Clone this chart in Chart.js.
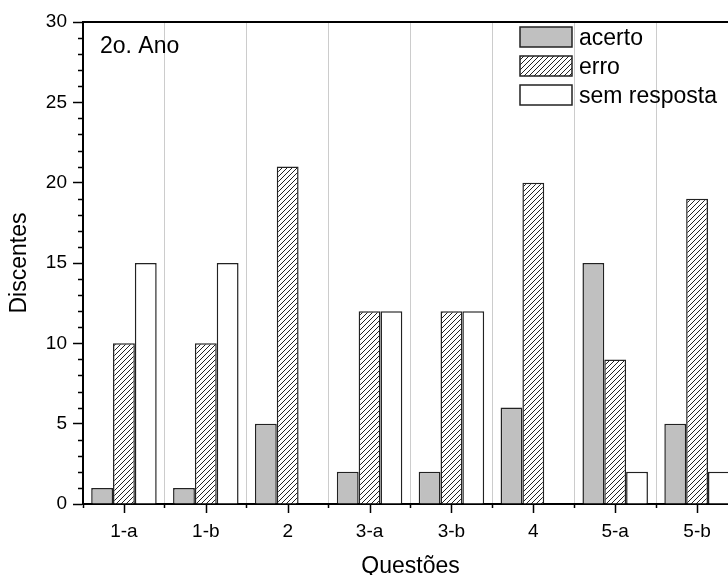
<!DOCTYPE html>
<html>
<head>
<meta charset="utf-8">
<script src="https://cdn.jsdelivr.net/npm/chart.js@4"></script>
<style>
  html, body { margin: 0; padding: 0; background: #fff; overflow: hidden; }
  #wrap { width: 746px; height: 575px; }
</style>
</head>
<body>
<div id="wrap"><canvas id="chart"></canvas></div>
<script>
const questoes = ["1-a", "1-b", "2", "3-a", "3-b", "4", "5-a", "5-b"];
const acerto = [1, 1, 5, 2, 2, 6, 15, 5];
const erro = [10, 10, 21, 12, 12, 20, 9, 19];
const semResposta = [15, 15, 0, 12, 12, 0, 2, 2];

const FONT = "'Liberation Sans', Arial, sans-serif";

// hatch "/" for erro
function hatch() {
  const s = 5;
  const c = document.createElement("canvas");
  c.width = s; c.height = s;
  const g = c.getContext("2d");
  g.fillStyle = "#fff";
  g.fillRect(0, 0, s, s);
  g.strokeStyle = "#222";
  g.lineWidth = 1;
  g.beginPath();
  g.moveTo(-1, s + 1); g.lineTo(s + 1, -1);
  g.moveTo(-1, 1); g.lineTo(1, -1);
  g.moveTo(s - 1, s + 1); g.lineTo(s + 1, s - 1);
  g.stroke();
  return g.createPattern(c, "repeat");
}
const ctx = document.getElementById("chart").getContext("2d");
const hatchPattern = hatch();

// minor ticks, major x ticks, top border, legend and label
const extras = {
  id: "extras",
  afterDraw(chart) {
    const { ctx, chartArea: a, scales: { x, y } } = chart;
    ctx.save();
    ctx.strokeStyle = "#000";
    ctx.lineWidth = 1.5;
    ctx.beginPath();
    for (let v = 0; v <= 30; v++) {
      if (v % 5 === 0) continue;
      const py = Math.round(y.getPixelForValue(v)) + 0.5;
      ctx.moveTo(a.left - 5, py); ctx.lineTo(a.left, py);
    }
    questoes.forEach((q, i) => {
      const px = Math.round(x.getPixelForValue(i)) + 0.5;
      ctx.moveTo(px, a.bottom); ctx.lineTo(px, a.bottom + 9);
    });
    ctx.stroke();
    ctx.lineWidth = 2;
    ctx.beginPath();
    ctx.moveTo(a.left - 1, a.top); ctx.lineTo(a.right, a.top);
    ctx.stroke();

    ctx.fillStyle = "#000";
    ctx.font = "23px " + FONT;
    ctx.textBaseline = "alphabetic";
    ctx.fillText("2o. Ano", 100, 53);

    chart.data.datasets.forEach((ds, i) => {
      const top = 27 + i * 29;
      ctx.fillStyle = ds.backgroundColor;
      ctx.fillRect(520, top, 52, 20);
      ctx.lineWidth = 1.5;
      ctx.strokeStyle = "#222";
      ctx.strokeRect(520, top, 52, 20);
      ctx.fillStyle = "#000";
      ctx.fillText(ds.label, 579, top + 18);
    });
    ctx.restore();
  }
};

new Chart(ctx, {
  type: "bar",
  data: {
    labels: questoes,
    datasets: [
      { label: "acerto", data: acerto, backgroundColor: "#c0c0c0" },
      { label: "erro", data: erro, backgroundColor: hatchPattern },
      { label: "sem resposta", data: semResposta, backgroundColor: "#fff" },
    ],
  },
  options: {
    responsive: true,
    maintainAspectRatio: false,
    animation: false,
    layout: { padding: { top: 22, right: 8, left: 0, bottom: 0 } },
    datasets: {
      bar: {
        categoryPercentage: 0.8,
        barPercentage: 1.0,
        borderColor: "#222",
        borderWidth: 1.5,
      },
    },
    plugins: { legend: { display: false }, tooltip: { enabled: false } },
    scales: {
      x: {
        afterFit: (s) => { s.height = 71; },
        grid: { offset: true, color: "#cccccc", lineWidth: 1, tickLength: 4, tickColor: "#000", tickWidth: 1.5 },
        border: { color: "#000", width: 2 },
        ticks: { color: "#000", font: { family: FONT, size: 19 }, padding: 12 },
        title: { display: true, text: "Questões", color: "#000", font: { family: FONT, size: 23, lineHeight: 1 }, padding: { top: 0, bottom: -3 } },
      },
      y: {
        min: 0,
        max: 30,
        afterFit: (s) => { s.width = 83; },
        ticks: { stepSize: 5, color: "#000", font: { family: FONT, size: 19 }, padding: 6 },
        grid: { drawOnChartArea: false, tickLength: 10, tickColor: "#000", tickWidth: 1.5 },
        border: { color: "#000", width: 2 },
        title: { display: true, text: "Discentes", color: "#000", font: { family: FONT, size: 23, lineHeight: 1 }, padding: { top: 8.5, bottom: 0 } },
      },
    },
  },
  plugins: [extras],
});
</script>
</body>
</html>
